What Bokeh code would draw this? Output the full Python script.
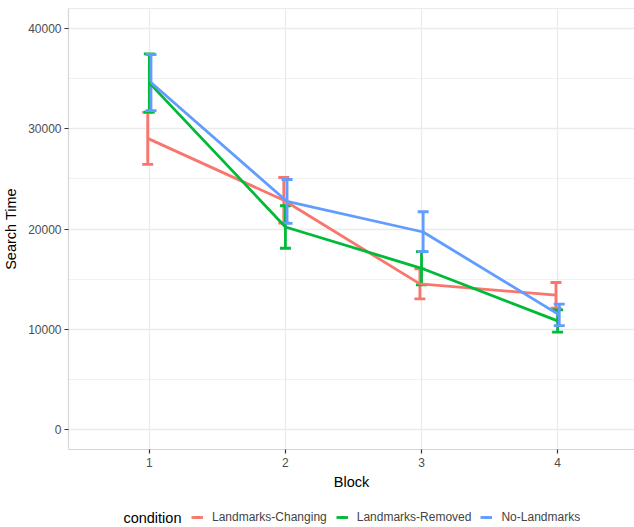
import math
from bokeh.plotting import figure
from bokeh.layouts import column
from bokeh.models import (ColumnDataSource, FixedTicker, Whisker, TeeHead, Legend,
                          LegendItem, Span, Range1d, BasicTickFormatter, Label)
from bokeh.transform import dodge
from bokeh.embed import file_html
from bokeh.resources import INLINE

blocks = [1, 2, 3, 4]
conditions = ["Landmarks-Changing", "Landmarks-Removed", "No-Landmarks"]
colors = ["#F8766D", "#00BA38", "#619CFF"]
offsets = [-0.012, 0.0, 0.012]

mean_changing = [29040, 22870, 14520, 13400]
lower_changing = [26440, 20600, 13030, 12100]
upper_changing = [31640, 25140, 16020, 14660]

mean_removed = [34580, 20200, 16080, 10830]
lower_removed = [31670, 18080, 14430, 9720]
upper_removed = [37480, 22320, 17740, 11940]

mean_none = [34610, 22750, 19700, 11430]
lower_none = [31810, 20560, 17740, 10350]
upper_none = [37410, 24940, 21720, 12510]

series = [
    (mean_changing, lower_changing, upper_changing),
    (mean_removed, lower_removed, upper_removed),
    (mean_none, lower_none, upper_none),
]

y_ticks = [0, 10000, 20000, 30000, 40000]
y_minor = [5000, 15000, 25000, 35000]

FONT = "Liberation Sans"
BORDER = "#d6d6d6"
GRID = "#ebebeb"

W = 634
H_MAIN = 496
H_LEG = 31
FRAME_LEFT = 67

p = figure(width=W, height=H_MAIN, output_backend="svg", toolbar_location=None,
           x_range=Range1d(0.406, 4.565), y_range=Range1d(-2000, 42000),
           min_border_left=FRAME_LEFT, min_border_right=0, min_border_top=8,
           min_border_bottom=47)
p.outline_line_color = None
p.background_fill_color = "white"

# grids
p.xgrid.ticker = FixedTicker(ticks=blocks)
p.ygrid.ticker = FixedTicker(ticks=y_ticks, minor_ticks=y_minor)
p.xgrid.grid_line_color = GRID
p.ygrid.grid_line_color = GRID
p.xgrid.grid_line_width = 1.3
p.ygrid.grid_line_width = 1.3
p.ygrid.minor_grid_line_color = GRID
p.ygrid.minor_grid_line_width = 0.7

# axes
p.xaxis.ticker = FixedTicker(ticks=blocks)
p.yaxis.ticker = FixedTicker(ticks=y_ticks, minor_ticks=y_minor)
p.yaxis.formatter = BasicTickFormatter(use_scientific=False)
for ax in (p.xaxis[0], p.yaxis[0]):
    ax.axis_line_color = BORDER
    ax.axis_line_width = 1.2
    ax.major_tick_line_color = "#333333"
    ax.major_tick_line_width = 1.2
    ax.major_tick_out = 4
    ax.major_tick_in = 0
    ax.minor_tick_out = 0
    ax.minor_tick_in = 0
    ax.major_label_text_font = FONT
    ax.major_label_text_font_size = "12px"
    ax.major_label_text_color = "#4d4d4d"
    ax.axis_label_text_font = FONT
    ax.axis_label_text_font_size = "14.5px"
    ax.axis_label_text_font_style = "normal"
    ax.axis_label_text_color = "black"
p.xaxis.axis_label = "Block"
p.yaxis.axis_label = "Search Time"
p.xaxis.major_label_standoff = 4
p.xaxis.axis_label_standoff = 4
p.yaxis.major_label_standoff = 3
p.yaxis.axis_label_standoff = 6

p.add_layout(Span(location=42000, dimension="width", line_color=BORDER, line_width=1.2))

for name, col, off, (m, lo, hi) in zip(conditions, colors, offsets, series):
    src = ColumnDataSource(dict(block=blocks, mean=m, lower=lo, upper=hi))
    xs = dodge("block", off)
    w = Whisker(source=src, base=xs, upper="upper", lower="lower",
                line_color=col, line_width=2.8,
                upper_head=TeeHead(size=11, line_color=col, line_width=2.8),
                lower_head=TeeHead(size=11, line_color=col, line_width=2.8))
    p.add_layout(w)
    p.line(x=xs, y="mean", source=src, line_color=col, line_width=2.8)

# legend strip below the main plot; the column aligns its frame with the main frame,
# so its x range is expressed in page pixels from FRAME_LEFT to W
pl = figure(width=W, height=H_LEG, output_backend="svg", toolbar_location=None,
            x_range=Range1d(FRAME_LEFT, W), y_range=Range1d(0, H_LEG),
            x_axis_location=None, y_axis_location=None,
            min_border=0, min_border_left=FRAME_LEFT, min_border_right=0,
            min_border_top=0, min_border_bottom=0)
pl.grid.visible = False
pl.outline_line_color = None

items = []
for name, col in zip(conditions, colors):
    # key glyphs only; their data lie outside the visible strip
    r1 = pl.line(x=[-50, -40], y=[-50, -50], line_color=col, line_width=2.8)
    r2 = pl.scatter(x=[-50], y=[-50], marker="dash", angle=math.pi / 2, size=6,
                    line_color=col, line_width=2.8)
    items.append(LegendItem(label=name, renderers=[r1, r2]))

legend = Legend(items=items, orientation="horizontal", location=(190 - FRAME_LEFT, 3),
                label_text_font=FONT, label_text_font_size="12px",
                glyph_width=12, glyph_height=14, label_standoff=9, spacing=9,
                padding=0, margin=0, border_line_color=None,
                background_fill_alpha=0)
pl.add_layout(legend, "center")

pl.add_layout(Label(x=122, y=10, text="condition",
                    text_font=FONT, text_font_size="14.5px", text_baseline="middle",
                    text_color="black"))

layout = column(p, pl, spacing=0)
open("out.html", "w").write(file_html(layout, INLINE))
